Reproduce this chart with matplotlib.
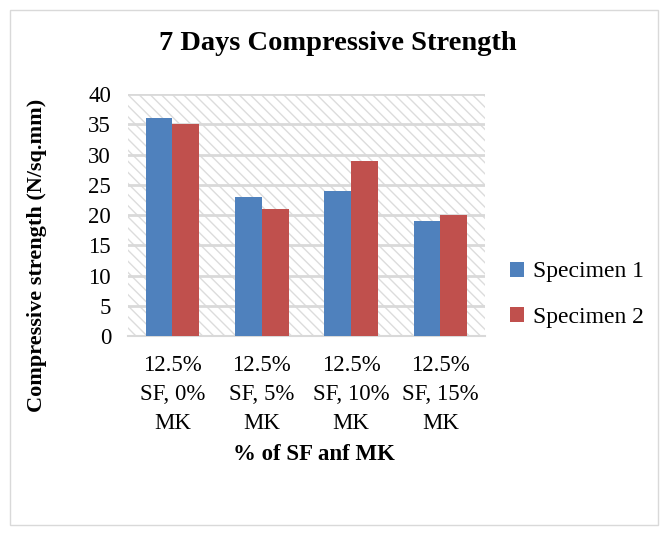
import numpy as np
import matplotlib.pyplot as plt
from matplotlib.patches import Rectangle

plt.rcParams['font.family'] = ['Liberation Serif', 'DejaVu Serif']
plt.rcParams['hatch.linewidth'] = 1.0

categories = ["12.5%\nSF, 0%\nMK", "12.5%\nSF, 5%\nMK", "12.5%\nSF, 10%\nMK", "12.5%\nSF, 15%\nMK"]
specimen1 = [36, 23, 24, 19]
specimen2 = [35, 21, 29, 20]
series_names = ["Specimen 1", "Specimen 2"]
yticks = [0, 5, 10, 15, 20, 25, 30, 35, 40]

W, H = 672, 535
fig = plt.figure(figsize=(W / 100, H / 100), dpi=100)
# outer frame like a chart object border
fig.patches.append(Rectangle((10 / W, 10 / H), 648 / W, 515 / H, transform=fig.transFigure,
                             fill=False, edgecolor='#d9d9d9', linewidth=1.0))

ax = fig.add_axes([0.190, 0.372, 0.532, 0.452])
ax.set_facecolor('white')
# hatched plot area background
ax.add_patch(Rectangle((0, 0), 1, 1, transform=ax.transAxes, facecolor='white',
                       edgecolor='#dcdcdc', hatch='\\\\\\', linewidth=0, zorder=0))

x = np.arange(len(categories))
w = 0.3
ax.bar(x - w / 2, specimen1, w, color='#4f81bd', label=series_names[0], zorder=3)
ax.bar(x + w / 2, specimen2, w, color='#c0504d', label=series_names[1], zorder=3)

ax.set_xlim(-0.5, len(categories) - 0.5)
ax.set_ylim(0, 40)
ax.set_yticks(yticks)
ax.yaxis.grid(True, color='#d9d9d9', linewidth=2, zorder=1)
ax.set_axisbelow(True)
for s in ['top', 'right', 'left']:
    ax.spines[s].set_visible(False)
ax.spines['bottom'].set_color('#d9d9d9')
ax.spines['bottom'].set_linewidth(1.5)
ax.tick_params(length=0, labelsize=16.5)
ax.tick_params(axis='y', pad=12)
ax.tick_params(axis='x', pad=14)
ax.set_xticks(x)
ax.set_xticklabels(categories, linespacing=1.48)

fig.text(338 / W, 1 - 43 / H, "7 Days Compressive Strength", fontsize=20.5, fontweight='bold',
         ha='center', va='center')
fig.text(314 / W, 1 - 455 / H, "% of SF anf MK", fontsize=16.5, fontweight='bold',
         ha='center', va='center')
fig.text(37 / W, 1 - 255 / H, "Compressive strength (N/sq.mm)", fontsize=16, fontweight='bold',
         ha='center', va='center', rotation=90)

fig.legend(loc='center left', bbox_to_anchor=(0.727, 0.449), frameon=False, fontsize=17,
           handlelength=0.6, handleheight=0.6, handletextpad=0.4, labelspacing=1.05)

fig.savefig("out.png", dpi=100)
